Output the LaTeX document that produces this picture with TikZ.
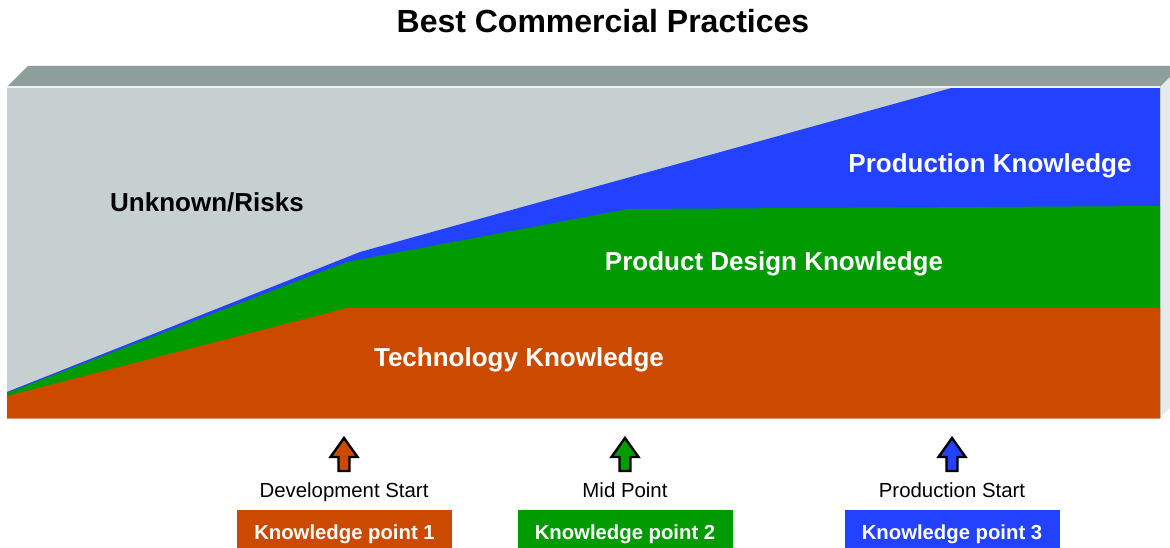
\documentclass[tikz,border=0pt]{standalone}
\usepackage{fontspec}
\setmainfont{Liberation Sans}
\definecolor{cOrange}{HTML}{CC4A00}
\definecolor{cGreen}{HTML}{009B00}
\definecolor{cBlue}{HTML}{2342FF}
\definecolor{cFront}{HTML}{C6D0D0}
\definecolor{cTop}{HTML}{8E9E9A}
\definecolor{cSide}{HTML}{E5EAEA}
\begin{document}
\begin{tikzpicture}[x=1pt,y=-1pt,
  bigwhite/.style={text=white,font=\bfseries\fontsize{26}{30}\selectfont,anchor=base,inner sep=0pt},
  lbl/.style={font=\fontsize{20.4}{24}\selectfont,anchor=base,inner sep=0pt},
  kbox/.style={text=white,font=\bfseries\fontsize{20.3}{24}\selectfont,minimum width=215pt,minimum height=44pt,inner sep=0pt,text depth=0pt},
  uparrow/.style={draw=black,line width=2.4pt,line join=miter},
]
\useasboundingbox (0,0) rectangle (1170,548);
\clip (0,0) rectangle (1170,548);
% block
\fill[cTop] (7,87) -- (28,66) -- (1181,66) -- (1160,87) -- cycle;
\fill[cSide] (1160,87) -- (1181,66) -- (1181,397) -- (1160,418) -- cycle;
\fill[cFront] (7,87) rectangle (1160,418);
\fill[cBlue] (7,392) -- (360,252) -- (955,87) -- (1160,87) -- (1160,418) -- (7,418) -- cycle;
\fill[cGreen] (7,393) -- (347,262) -- (628,209) -- (1160,206) -- (1160,418) -- (7,418) -- cycle;
\fill[cOrange] (7,396) -- (347,308) -- (1160,308) -- (1160,418) -- (7,418) -- cycle;
\draw[line width=1.5pt,color=white!75!cFront] (7,87) -- (1160,87);
\draw[line width=1pt,color=cOrange!60!white] (7,418.5) -- (1160,418.5);
% texts
\node[font=\bfseries\fontsize{32}{36}\selectfont,anchor=base,inner sep=0pt] (title) at (603,32.5) {Best Commercial Practices};
\node[font=\bfseries\fontsize{26}{30}\selectfont,anchor=base,inner sep=0pt] (unk) at (207,212) {Unknown/Risks};
\node[bigwhite] (prod) at (990,173) {Production Knowledge};
\node[bigwhite] (des) at (774,270) {Product Design Knowledge};
\node[bigwhite] (tech) at (519,366) {Technology Knowledge};
% arrows
\coordinate (a1) at (344,438);
\coordinate (a2) at (625,438);
\coordinate (a3) at (952,438);
\foreach \a/\c in {a1/cOrange,a2/cGreen,a3/cBlue}{
  \draw[uparrow,fill=\c] (\a) -- ++(13.5,19) -- ++(-8,0) -- ++(0,14) -- ++(-11,0) -- ++(0,-14) -- ++(-8,0) -- cycle;
}
\node[lbl] (l1) at (344,497) {Development Start};
\node[lbl] (l2) at (625,497) {Mid Point};
\node[lbl] (l3) at (952,497) {Production Start};
\node[kbox,fill=cOrange] (k1) at (344.5,532) {Knowledge point 1};
\node[kbox,fill=cGreen] (k2) at (625,532) {Knowledge point 2};
\node[kbox,fill=cBlue] (k3) at (952,532) {Knowledge point 3};
\end{tikzpicture}
\end{document}
